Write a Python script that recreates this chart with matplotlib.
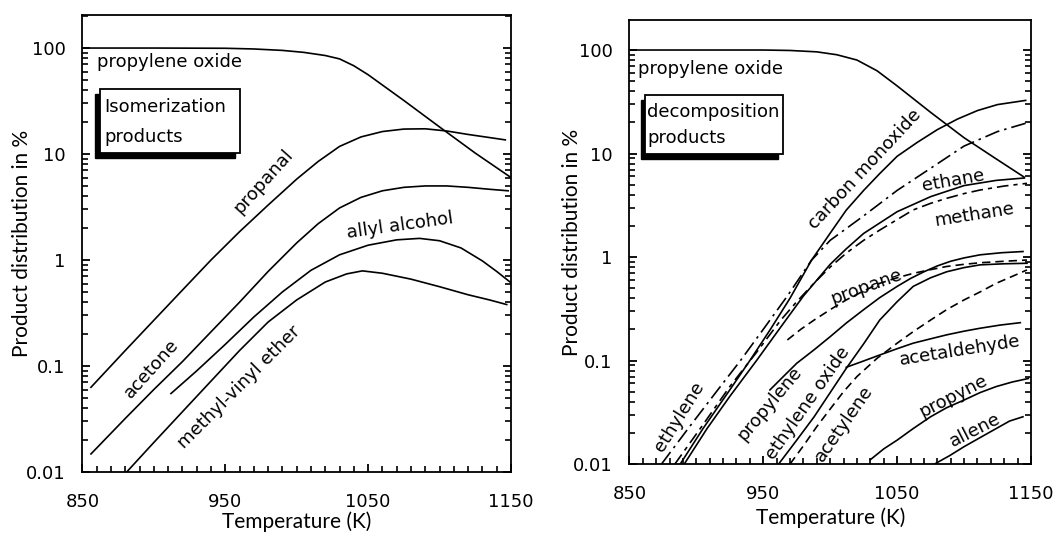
import matplotlib
matplotlib.use('Agg')
import matplotlib.pyplot as plt
from matplotlib.patches import Rectangle
from matplotlib.ticker import MultipleLocator, LogLocator, NullFormatter

# ---- isomerization panel (left) ----
T_po_l = [850, 900, 950, 970, 990, 1005, 1020, 1030, 1040, 1050, 1075, 1100, 1125, 1150]
po_l = [100, 100, 99.5, 98, 95, 91, 85, 79, 68, 56, 32, 18, 10.2, 6.0]
T_propanal = [856, 880, 900, 920, 940, 960, 980, 1000, 1015, 1030, 1045, 1060, 1075, 1090,
              1105, 1120, 1135, 1146]
propanal = [0.063, 0.14, 0.27, 0.52, 1.0, 1.85, 3.3, 5.8, 8.5, 11.8, 14.5, 16.3, 17.2, 17.3,
            16.5, 15.3, 14.3, 13.6]
T_acetone = [856, 880, 900, 920, 940, 960, 980, 1000, 1015, 1030, 1045, 1060, 1075, 1090,
             1105, 1120, 1135, 1148]
acetone = [0.0148, 0.032, 0.06, 0.11, 0.21, 0.40, 0.78, 1.45, 2.2, 3.1, 3.9, 4.5, 4.85, 5.0,
           5.0, 4.85, 4.65, 4.5]
T_allyl = [912, 930, 950, 970, 990, 1010, 1030, 1050, 1070, 1086, 1100, 1115, 1130, 1140, 1150]
allyl = [0.055, 0.09, 0.16, 0.29, 0.50, 0.80, 1.12, 1.38, 1.55, 1.6, 1.52, 1.3, 0.98, 0.78, 0.61]
T_mve = [881, 900, 920, 940, 960, 980, 1000, 1020, 1035, 1046, 1060, 1080, 1100, 1120, 1135, 1147]
mve = [0.01, 0.019, 0.037, 0.072, 0.14, 0.26, 0.42, 0.62, 0.74, 0.79, 0.75, 0.66, 0.56, 0.47,
       0.42, 0.38]

# ---- decomposition panel (right) ----
T_po_r = [850, 950, 970, 990, 1005, 1020, 1035, 1050, 1075, 1100, 1125, 1145]
po_r = [100, 100, 99, 96, 90, 80, 63, 45, 25, 14.2, 8.7, 5.9]
T_co = [888, 905, 925, 940, 955, 970, 986, 1000, 1012, 1025, 1037, 1050, 1065, 1080, 1095,
        1110, 1125, 1146]
co = [0.01, 0.022, 0.052, 0.1, 0.197, 0.4, 0.93, 1.7, 2.84, 4.4, 6.4, 9.4, 12.8, 17, 21.5,
      26, 29.7, 32.6]
T_c2h4 = [874, 895, 915, 933, 950, 968, 986, 1000, 1025, 1050, 1075, 1100, 1125, 1146]
c2h4 = [0.01, 0.023, 0.05, 0.1, 0.2, 0.42, 0.93, 1.45, 2.5, 4.4, 7.2, 11.8, 16.3, 19.6]
T_c2h6 = [891, 908, 925, 945, 963, 980, 1000, 1012, 1025, 1050, 1075, 1100, 1124, 1145]
c2h6 = [0.01, 0.022, 0.045, 0.1, 0.21, 0.42, 0.85, 1.2, 1.69, 2.74, 3.83, 4.9, 5.5, 5.8]
T_ch4 = [884, 905, 925, 945, 963, 975, 988, 1000, 1012, 1025, 1037, 1050, 1062, 1075, 1087,
         1100, 1112, 1130, 1147]
ch4 = [0.01, 0.024, 0.056, 0.12, 0.245, 0.37, 0.56, 0.8, 1.09, 1.45, 1.82, 2.3, 2.85, 3.3, 3.69,
       4.1, 4.44, 4.85, 5.15]
T_c3h8 = [968, 978, 988, 1000, 1012, 1025, 1037, 1050, 1062, 1075, 1087, 1100, 1112, 1130, 1147]
c3h8 = [0.158, 0.2, 0.246, 0.31, 0.385, 0.47, 0.557, 0.63, 0.695, 0.755, 0.81, 0.85, 0.88,
        0.91, 0.935]
T_c3h6 = [955, 965, 975, 988, 1000, 1012, 1025, 1037, 1050, 1060, 1070, 1080, 1090, 1100, 1112,
          1128, 1144]
c3h6 = [0.052, 0.07, 0.094, 0.127, 0.17, 0.23, 0.31, 0.405, 0.52, 0.62, 0.72, 0.82, 0.91, 0.98,
        1.05, 1.1, 1.13]
T_eo = [961.5, 975, 988, 1000, 1012, 1025, 1037, 1050, 1062, 1075, 1087, 1100, 1112, 1130, 1147]
eo = [0.01, 0.017, 0.0286, 0.049, 0.084, 0.145, 0.246, 0.37, 0.52, 0.63, 0.72, 0.79, 0.84,
      0.86, 0.87]
T_ald = [1012, 1025, 1037, 1050, 1062, 1075, 1087, 1100, 1112, 1127, 1142]
ald = [0.086, 0.099, 0.113, 0.13, 0.147, 0.162, 0.177, 0.192, 0.205, 0.22, 0.232]
T_c2h2 = [970, 980, 990, 1000, 1010, 1020, 1035, 1050, 1062, 1075, 1087, 1100, 1112, 1124,
          1136, 1147]
c2h2 = [0.01, 0.015, 0.023, 0.034, 0.05, 0.07, 0.105, 0.147, 0.19, 0.246, 0.31, 0.385, 0.46,
        0.557, 0.65, 0.75]
T_pyne = [1030, 1040, 1050, 1062, 1075, 1087, 1100, 1112, 1124, 1136, 1148]
pyne = [0.011, 0.014, 0.017, 0.022, 0.0286, 0.035, 0.0415, 0.049, 0.056, 0.062, 0.067]
T_allene = [1078, 1089, 1100, 1112, 1124, 1134, 1144]
allene = [0.01, 0.012, 0.0147, 0.018, 0.022, 0.026, 0.0286]

yticks = [0.01, 0.1, 1, 10, 100]
ylabels = ['0.01', '0.1', '1', '10', '100']
xticks = [850, 950, 1050, 1150]

LBL = dict(family='DejaVu Sans', fontsize=13, ha='center', va='center')
LW = 1.2

def frame(ax, ytop):
    ax.set_yscale('log')
    ax.set_xlim(850, 1150)
    ax.set_ylim(0.01, ytop)
    ax.set_xticks(xticks)
    ax.set_xticklabels([str(t) for t in xticks])
    ax.xaxis.set_minor_locator(MultipleLocator(10))
    ax.set_yticks(yticks)
    ax.set_yticklabels(ylabels)
    ax.yaxis.set_minor_locator(LogLocator(base=10, subs=range(2, 10)))
    ax.yaxis.set_minor_formatter(NullFormatter())
    for sp in ax.spines.values():
        sp.set_linewidth(1.3)
    ax.set_xlabel('Temperature (K)', family='Lato', fontsize=15)
    ax.set_ylabel('Product distribution in %', family='Lato', fontsize=15)
    ax.yaxis.label.set_verticalalignment('center')
    ax.xaxis.label.set_verticalalignment('center')

def ticks(ax):
    # applied last, after everything else is on the axes
    ax.tick_params(axis='both', which='both', direction='in', labelsize=13)
    ax.tick_params(axis='x', which='both', bottom=True, top=False, pad=15)
    ax.tick_params(axis='y', which='both', left=True, right=True, pad=12)
    ax.tick_params(which='major', length=6, width=1.3, color='k')
    ax.tick_params(which='minor', length=4, width=1.2, color='k')

def box(ax, x0, y0, x1, y1, lines, tx, ty):
    dx, dy = 0.012, 0.011
    ax.add_patch(Rectangle((x0 - dx, y0 - dy), x1 - x0, y1 - y0, transform=ax.transAxes,
                           fc='k', ec='k', zorder=4))
    ax.add_patch(Rectangle((x0, y0), x1 - x0, y1 - y0, transform=ax.transAxes,
                           fc='w', ec='k', lw=1.3, zorder=5))
    for t, y in zip(lines, ty):
        ax.text(tx, y, t, transform=ax.transAxes, family='DejaVu Sans', fontsize=13,
                ha='left', va='center', zorder=6)

fig = plt.figure(figsize=(10.59, 5.33), dpi=100)
axL = fig.add_axes([82.4/1059, 61/533, 428.6/1059, 457/533])
axR = fig.add_axes([629.4/1059, 69/533, 401.6/1059, 444/533])

# left panel
frame(axL, 205)
for T, v in [(T_po_l, po_l), (T_propanal, propanal), (T_acetone, acetone),
             (T_allyl, allyl), (T_mve, mve)]:
    axL.plot(T, v, color='k', lw=LW)
axL.text(860.5, 74, 'propylene oxide', **dict(LBL, ha='left'))
axL.text(977, 5.5, 'propanal', rotation=48, **LBL)
axL.text(898, 0.095, 'acetone', rotation=48, **LBL)
axL.text(1072, 2.09, 'allyl alcohol', rotation=8, **LBL)
axL.text(960, 0.063, 'methyl-vinyl ether', rotation=45, **LBL)
box(axL, 0.042, 0.698, 0.368, 0.838, ['Isomerization', 'products'], 0.051, [0.799, 0.733])
axL.yaxis.set_label_coords(-0.142, 0.5)
axL.xaxis.set_label_coords(0.5, -0.109)

# right panel
frame(axR, 195)
solid = [(T_po_r, po_r), (T_co, co), (T_c2h6, c2h6), (T_c3h6, c3h6), (T_eo, eo),
         (T_ald, ald), (T_pyne, pyne), (T_allene, allene)]
for T, v in solid:
    axR.plot(T, v, color='k', lw=LW)
axR.plot(T_c2h4, c2h4, color='k', lw=LW, dashes=(9, 3, 1.5, 3))
axR.plot(T_ch4, ch4, color='k', lw=LW, dashes=(7, 3, 2.5, 3))
axR.plot(T_c3h8, c3h8, color='k', lw=LW, dashes=(5, 3))
axR.plot(T_c2h2, c2h2, color='k', lw=LW, dashes=(5, 3))
axR.text(856.7, 66, 'propylene oxide', **dict(LBL, ha='left'))
axR.text(1026, 7.0, 'carbon monoxide', rotation=47, **LBL)
axR.text(1092, 5.5, 'ethane', rotation=10, **LBL)
axR.text(1108, 2.55, 'methane', rotation=9, **LBL)
axR.text(1027, 0.52, 'propane', rotation=20, **LBL)
axR.text(887, 0.0286, 'ethylene', rotation=58, **LBL)
axR.text(955, 0.0385, 'propylene', rotation=50, **LBL)
axR.text(983, 0.0385, 'ethylene oxide', rotation=55, **LBL)
axR.text(1010, 0.0247, 'acetylene', rotation=55, **LBL)
axR.text(1097, 0.126, 'acetaldehyde', rotation=9, **LBL)
axR.text(1092, 0.0448, 'propyne', rotation=27, **LBL)
axR.text(1108, 0.0213, 'allene', rotation=27, **LBL)
box(axR, 0.040, 0.698, 0.383, 0.831, ['decomposition', 'products'], 0.045, [0.793, 0.734])
axR.yaxis.set_label_coords(-0.142, 0.5)
axR.xaxis.set_label_coords(0.5, -0.122)

ticks(axL)
ticks(axR)

fig.savefig('out.png', dpi=100)
